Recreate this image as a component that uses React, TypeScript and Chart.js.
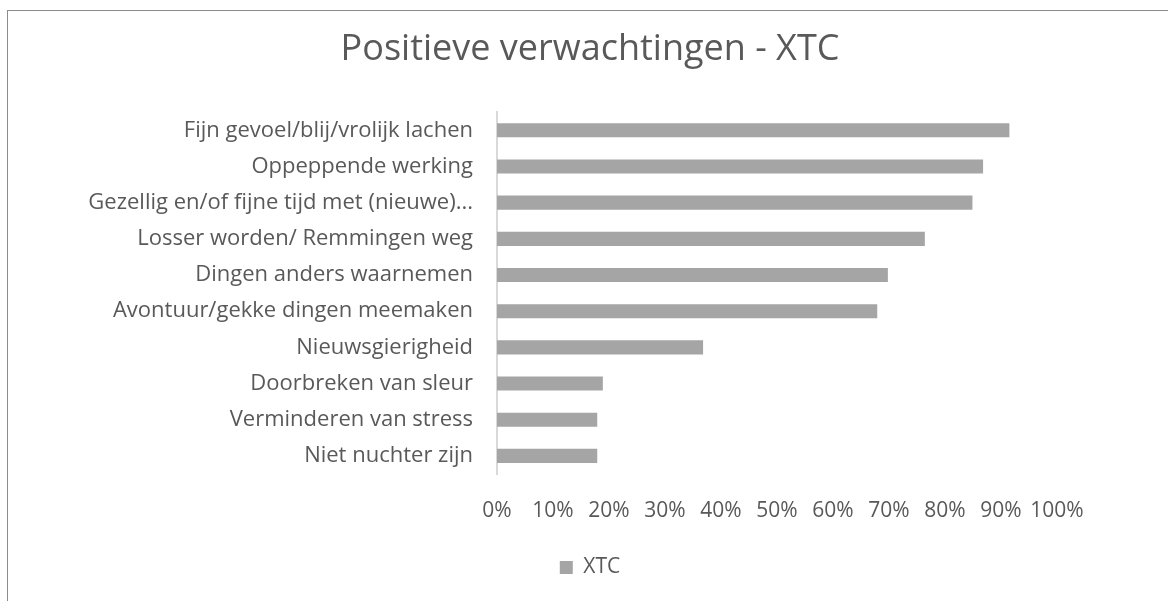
import React, { useEffect, useRef } from "react";
import { Chart, registerables } from "chart.js";

Chart.register(...registerables);

const categories = [
  "Fijn gevoel/blij/vrolijk lachen",
  "Oppeppende werking",
  "Gezellig en/of fijne tijd met (nieuwe)...",
  "Losser worden/ Remmingen weg",
  "Dingen anders waarnemen",
  "Avontuur/gekke dingen meemaken",
  "Nieuwsgierigheid",
  "Doorbreken van sleur",
  "Verminderen van stress",
  "Niet nuchter zijn",
];
const xtcValues = [91.5, 86.8, 84.9, 76.4, 69.8, 67.9, 36.8, 18.9, 17.9, 17.9];
const seriesName = "XTC";
const chartTitle = "Positieve verwachtingen - XTC";
const xMin = 0;
const xMax = 100;
const xStep = 10;

const FONT = "'Open Sans', Lato, sans-serif";
const TEXT = "#595959";
const BAR = "#a5a5a5";

export default function App() {
  const ref = useRef<HTMLCanvasElement | null>(null);
  useEffect(() => {
    if (!ref.current) return;
    const chart = new Chart(ref.current, {
      type: "bar",
      data: {
        labels: categories,
        datasets: [
          {
            label: seriesName,
            data: xtcValues,
            backgroundColor: BAR,
            borderWidth: 0,
            barPercentage: 0.78,
            categoryPercentage: 0.5,
            yAxisID: "y",
          },
        ],
      },
      options: {
        indexAxis: "y",
        animation: false,
        responsive: false,
        maintainAspectRatio: false,
        layout: { padding: { left: 12, right: 0, top: 0, bottom: 13 } },
        plugins: {
          title: {
            display: true,
            text: chartTitle,
            color: TEXT,
            font: { family: FONT, size: 36, weight: "normal" },
            padding: { top: 28, bottom: 41 },
          },
          legend: {
            display: true,
            position: "bottom",
            labels: {
              color: TEXT,
              font: { family: FONT, size: 21 },
              boxWidth: 13,
              boxHeight: 13,
              padding: 10,
            },
          },
          tooltip: { enabled: false },
        },
        scales: {
          x: {
            min: xMin,
            max: xMax,
            ticks: {
              stepSize: xStep,
              color: TEXT,
              font: { family: FONT, size: 21 },
              padding: 24,
              callback: (v: any) => v + "%",
              maxRotation: 0,
              autoSkip: false,
            },
            grid: { display: false, drawTicks: false },
            border: { display: false },
            afterFit: (s: any) => {
              s.height = 73;
            },
          },
          y: {
            ticks: {
              color: TEXT,
              font: { family: FONT, size: 22 },
              padding: 24,
              autoSkip: false,
            },
            grid: { display: false, drawTicks: false },
            border: { display: true, color: "#d9d9d9", width: 2 },
            afterFit: (s: any) => {
              s.width = 485;
            },
          },
          yRight: {
            axis: "y",
            type: "category",
            position: "right",
            display: true,
            ticks: { display: false },
            grid: { display: false, drawTicks: false },
            border: { display: false },
            afterFit: (s: any) => {
              s.width = 111;
            },
          },
        },
      },
    });
    return () => chart.destroy();
  }, []);
  return (
    <div style={{ position: "fixed", left: 0, top: 0, width: 1168, height: 601, overflow: "hidden", background: "#fff" }}>
      <canvas ref={ref} width={1168} height={601} style={{ position: "absolute", left: 0, top: 0, width: 1168, height: 601 }} />
      <div
        style={{
          position: "absolute",
          left: 7,
          top: 10,
          width: 1200,
          height: 700,
          border: "1px solid #8c8c8c",
          pointerEvents: "none",
        }}
      />
    </div>
  );
}
